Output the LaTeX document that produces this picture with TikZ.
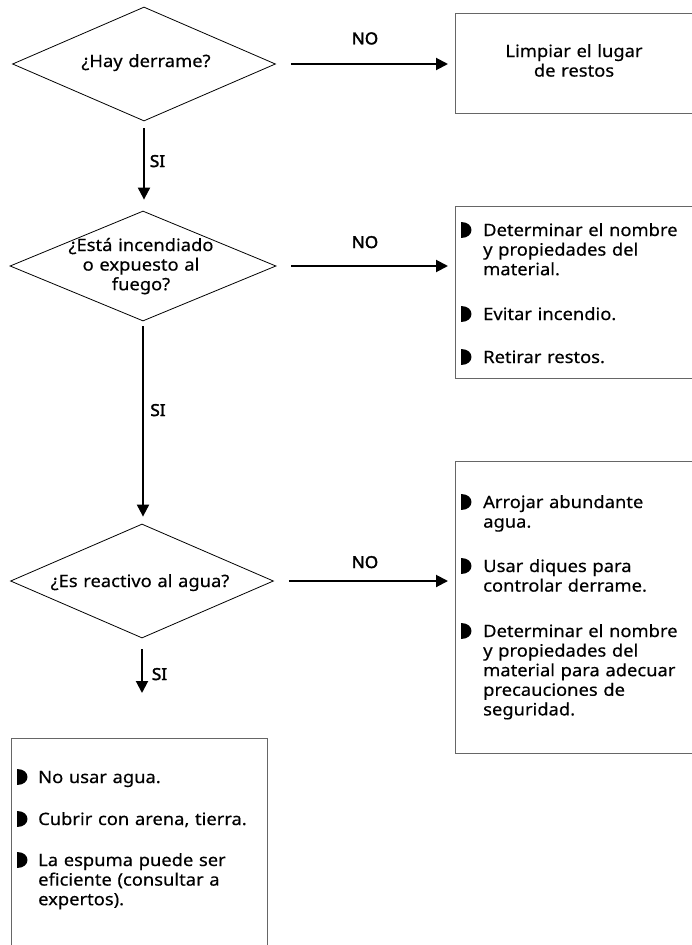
\documentclass[tikz,border=0pt]{standalone}
\usepackage{fontspec}
\setmainfont{Noto Sans}[FakeStretch=1.08, FakeBold=0.4]
\newfontfamily\labelfont{Noto Sans}[FakeStretch=1.04, FakeBold=2.2]
\usetikzlibrary{shapes.geometric,arrows.meta}

\begin{document}
\begin{tikzpicture}[x=1pt,y=-1pt,
  txt/.style={inner sep=0pt, font=\fontsize{17}{19.6}\selectfont},
  dia/.style={diamond, draw, line width=0.8pt, inner sep=0pt},
  box/.style={draw=black!60, line width=1.4pt, inner sep=0pt, anchor=north west},
  arr/.style={line width=2pt, -{Triangle[length=12pt,width=12pt]}},
  lbl/.style={inner sep=0pt, font=\labelfont\fontsize{16.5}{19.6}\selectfont, anchor=base},
  ctext/.style={txt, align=center, anchor=base, text width=200pt},
  item/.style={txt, align=left, anchor=base west, text width=220pt},
  hbul/.pic={\fill (0,-8) .. controls (13.5,-8) and (13.5,8) .. (0,8) -- cycle;}
]
\useasboundingbox (0,0) rectangle (692,945);
\clip (0,0) rectangle (692,945);

% decisions
\node[dia, minimum width=263pt, minimum height=114pt] (d1) at (144,64) {};
\node[dia, minimum width=266pt, minimum height=110pt] (d2) at (143,266) {};
\node[dia, minimum width=263pt, minimum height=114pt] (d3) at (142,581) {};

\node[ctext] (t1) at (146,67) {¿Hay derrame?};
\node[ctext] (t2) at (141,251) {¿Está incendiado\\o expuesto al\\fuego?};
\node[ctext] (t3) at (140,587) {¿Es reactivo al agua?};

% action boxes (they run off the right edge)
\node[box, minimum width=245pt, minimum height=100pt] (b1) at (455,13) {};
\node[box, minimum width=245pt, minimum height=172pt] (b2) at (455,206) {};
\node[box, minimum width=245pt, minimum height=292pt] (b3) at (455,461) {};
\node[box, minimum width=256pt, minimum height=230pt] (b4) at (11,738) {};

% box 1
\node[ctext] (b1t) at (574,57) {Limpiar el lugar\\de restos};

% box 2
\node[item] (b2i1) at (483,236) {Determinar el nombre\\y propiedades del\\material.};
\pic at (461,230) {hbul};
\node[item] (b2i2) at (483,320) {Evitar incendio.};
\pic at (461,314) {hbul};
\node[item] (b2i3) at (483,363) {Retirar restos.};
\pic at (461,357) {hbul};

% box 3
\node[item] (b3i1) at (483,508) {Arrojar abundante\\agua.};
\pic at (461,502) {hbul};
\node[item] (b3i2) at (483,572) {Usar diques para\\controlar derrame.};
\pic at (461,566) {hbul};
\node[item] (b3i3) at (483,637) {Determinar el nombre\\y propiedades del\\material para adecuar\\precauciones de\\seguridad.};
\pic at (461,631) {hbul};

% box 4
\node[item] (b4i1) at (38,783) {No usar agua.};
\pic at (17,777) {hbul};
\node[item] (b4i2) at (38,825) {Cubrir con arena, tierra.};
\pic at (17,819) {hbul};
\node[item] (b4i3) at (38,866) {La espuma puede ser\\eficiente (consultar a\\expertos).};
\pic at (17,860) {hbul};

% connectors
\coordinate (c3) at (142,693);
\draw[arr, shorten <=7pt, shorten >=11pt] (d1.south) -- (d1.south |- d2.north);
\draw[arr, shorten <=5pt, shorten >=7pt] (d2.south) -- (d2.south |- d3.north);
\draw[arr, shorten <=11pt] (d3.south) -- (c3);

\draw[arr, shorten <=15pt, shorten >=7pt] (d1.east) -- (d1.east -| b1.west);
\draw[arr, shorten <=15pt, shorten >=7pt] (d2.east) -- (d2.east -| b2.west);
\draw[arr, shorten <=15pt, shorten >=7pt] (d3.east) -- (d3.east -| b3.west);

% branch labels
\node[lbl] (no1) at (365,44.3) {NO};
\node[lbl] (no2) at (365,248) {NO};
\node[lbl] (no3) at (365,568) {NO};
\node[lbl] (si1) at (157.5,167) {SI};
\node[lbl] (si2) at (158,416) {SI};
\node[lbl] (si3) at (159.5,680) {SI};
\end{tikzpicture}
\end{document}
